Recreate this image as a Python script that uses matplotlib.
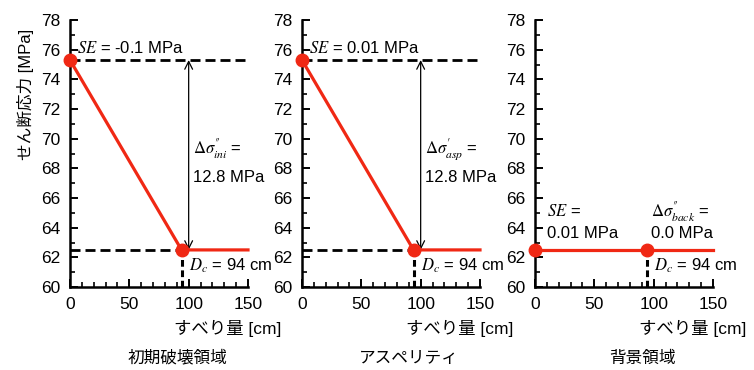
import matplotlib
matplotlib.use("Agg")
import matplotlib.pyplot as plt
from matplotlib import font_manager
from matplotlib.ticker import MultipleLocator

# ---- data -------------------------------------------------------------
panel_titles = ["初期破壊領域", "アスペリティ", "背景領域"]
slip_points = [0, 94, 150]              # slip [cm]: peak, Dc, end
dc_value = 94                           # critical slip distance [cm]
residual_stress = 62.5                  # [MPa]
stress_drop = [12.8, 12.8, 0.0]         # [MPa]
se_labels = ["-0.1", "0.01", "0.01"]    # strength excess [MPa]
drop_names = ["ini", "asp", "back"]
drop_primes = ["\u2033", "\u2032", "\u2033"]
x_ticks = [0, 50, 100, 150]
y_ticks = list(range(60, 80, 2))

# ---- fonts ------------------------------------------------------------
available = {f.name for f in font_manager.fontManager.ttflist}
num_font = "Liberation Sans Narrow" if "Liberation Sans Narrow" in available else "Liberation Sans"
families = [num_font, "Noto Sans CJK JP", "DejaVu Sans"]
plt.rcParams["font.family"] = families
plt.rcParams["mathtext.fontset"] = "stix"
plt.rcParams["axes.unicode_minus"] = False

RED = "#f02814"
FS = 12

W, H = 754, 370
fig = plt.figure(figsize=(W / 100, H / 100), dpi=100)

ax_left_px = [70, 302, 535]
ax_w_px = 178
ax_top_px, ax_bot_px = 20, 287

for i in range(3):
    l = ax_left_px[i] / W
    b = 1 - ax_bot_px / H
    ax = fig.add_axes([l, b, ax_w_px / W, (ax_bot_px - ax_top_px) / H])
    ax.set_xlim(0, 150)
    ax.set_ylim(60, 78)
    for s in ("top", "right"):
        ax.spines[s].set_visible(False)
    for s in ("left", "bottom"):
        ax.spines[s].set_linewidth(1.8)
    ax.set_xticks(x_ticks)
    ax.set_yticks(y_ticks)
    ax.xaxis.set_minor_locator(MultipleLocator(10))
    ax.yaxis.set_minor_locator(MultipleLocator(1))
    ax.tick_params(which="major", direction="in", length=6, width=1.4,
                   labelsize=FS + 0.5, pad=7)
    ax.tick_params(which="minor", direction="in", length=3.5, width=1.2)

    peak = residual_stress + stress_drop[i]
    ys = [peak, residual_stress, residual_stress]

    if stress_drop[i] > 0:
        ax.plot([0, 150], [peak, peak], color="black", lw=2,
                dashes=(3.6, 1.8), zorder=2, clip_on=False)
        ax.plot([0, dc_value], [residual_stress, residual_stress], color="black",
                lw=2, dashes=(3.6, 1.8), zorder=2)
        ax.annotate("", xy=(100, residual_stress), xytext=(100, peak),
                    arrowprops=dict(arrowstyle="<->", color="black", lw=0.9,
                                    shrinkA=0, shrinkB=0, mutation_scale=14),
                    zorder=3)

    # vertical marker below Dc
    ax.plot([dc_value, dc_value], [60, residual_stress - 0.4], color="black",
            lw=2.2, dashes=(2.2, 1.2), zorder=2)

    ax.plot(slip_points, ys, color=RED, lw=2.3, zorder=4, clip_on=False)
    ax.plot(slip_points[:2], ys[:2], "o", color=RED, ms=9, zorder=5, clip_on=False)

    drop_lbl = (r"$\mathit{\Delta\sigma}_{" + drop_names[i] + "}^{"
                + drop_primes[i] + r"}$ =")
    drop_val = f"{stress_drop[i]:.1f} MPa"
    if stress_drop[i] > 0:
        ax.text(6, 76.1, r"$SE$ = " + se_labels[i] + " MPa", fontsize=FS,
                va="center", ha="left")
        ax.text(104, 69.3, drop_lbl, fontsize=FS, va="center", ha="left")
        ax.text(104, 67.4, drop_val, fontsize=FS, va="center", ha="left")
    else:
        ax.text(10, 65.1, r"$SE$ =", fontsize=FS, va="center", ha="left")
        ax.text(10, 63.6, se_labels[i] + " MPa", fontsize=FS, va="center", ha="left")
        ax.text(98, 65.1, drop_lbl, fontsize=FS, va="center", ha="left")
        ax.text(98, 63.6, drop_val, fontsize=FS, va="center", ha="left")

    ax.text(100, 61.4, r"$D_c$ = " + f"{dc_value} cm", fontsize=FS,
            va="center", ha="left")

    # axis label and panel title
    right_px = ax_left_px[i] + ax_w_px
    fig.text((right_px - 20) / W, 1 - 328 / H, "すべり量 [cm]", fontsize=FS + 0.5,
             ha="center", va="center")
    fig.text((ax_left_px[i] + ax_w_px / 2 + 18) / W, 1 - 358 / H, panel_titles[i],
             fontsize=FS, ha="center", va="center")

fig.text(25 / W, 1 - 94 / H, "せん断応力 [MPa]", fontsize=FS, rotation=90,
         ha="center", va="center")

fig.savefig("out.png", dpi=100)
